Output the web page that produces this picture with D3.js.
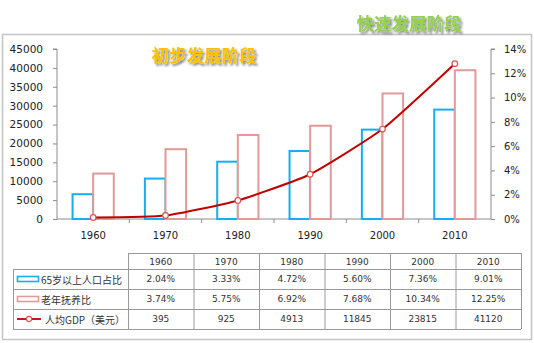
<!DOCTYPE html>
<html><head><meta charset="utf-8">
<script src="https://cdn.jsdelivr.net/npm/d3@7/dist/d3.min.js"></script>
<style>
html,body{margin:0;padding:0;background:#fff;}
svg{display:block;}
</style></head>
<body>
<svg id="chart" width="534" height="343"></svg>
<script>
const years = ["1960","1970","1980","1990","2000","2010"];
const elderlyShare = [2.04, 3.33, 4.72, 5.60, 7.36, 9.01];      // %
const dependency = [3.74, 5.75, 6.92, 7.68, 10.34, 12.25];       // %
const gdpPerCapita = [395, 925, 4913, 11845, 23815, 41120];      // USD
const leftTicks = [0,5000,10000,15000,20000,25000,30000,35000,40000,45000];
const rightTicks = [0,2,4,6,8,10,12,14];
const seriesNames = ["65岁以上人口占比","老年抚养比","人均GDP（美元）"];
const stageLabels = ["初步发展阶段","快速发展阶段"];

const svg = d3.select("#chart");
const font = "'DejaVu Sans', Verdana, sans-serif";
const cjk = "'Noto Sans CJK SC', sans-serif";
const axisColor = "#8c8c8c";
const blue = "#12b0ee", pink = "#e09a98", red = "#c00000";

const defs = svg.append("defs");
const f = defs.append("filter").attr("id","sh").attr("x","-10%").attr("y","-30%").attr("width","130%").attr("height","170%");
f.append("feGaussianBlur").attr("in","SourceAlpha").attr("stdDeviation",1).attr("result","b");
f.append("feOffset").attr("in","b").attr("dx",1.5).attr("dy",1.5).attr("result","o");
f.append("feComponentTransfer").attr("in","o").attr("result","o2")
  .append("feFuncA").attr("type","linear").attr("slope",0.5);
const m = f.append("feMerge");
m.append("feMergeNode").attr("in","o2");
m.append("feMergeNode").attr("in","SourceGraphic");

svg.append("rect").attr("x",2.5).attr("y",34.5).attr("width",529).attr("height",305)
  .attr("fill","#fff").attr("stroke","#c4c4c4").attr("stroke-width",1.5);

const plotL = 57, plotR = 491, plotT = 49, plotB = 219;
const x = d3.scaleBand().domain(years).range([plotL, plotR]).padding(0);
const yL = d3.scaleLinear().domain([0,45000]).range([plotB, plotT]);
const yR = d3.scaleLinear().domain([0,14]).range([plotB, plotT]);

const gL = svg.append("g").attr("transform",`translate(${plotL},0)`)
  .call(d3.axisLeft(yL).tickValues(leftTicks).tickSize(4).tickPadding(10).tickFormat(d3.format("d")));
const gR = svg.append("g").attr("transform",`translate(${plotR},0)`)
  .call(d3.axisRight(yR).tickValues(rightTicks).tickSize(4).tickPadding(9).tickFormat(d => d + "%"));
const gX = svg.append("g").attr("transform",`translate(0,${plotB})`)
  .call(d3.axisBottom(x).tickSize(0).tickPadding(13));
gX.selectAll(".bnd").data(years.slice(1)).enter().append("line").attr("class","bnd")
  .attr("x1",d=>x(d)).attr("x2",d=>x(d)).attr("y1",0).attr("y2",4).attr("stroke",axisColor);
[gL,gR,gX].forEach(g=>{
  g.selectAll("path.domain").attr("stroke",axisColor);
  g.selectAll(".tick line").attr("stroke",axisColor);
  g.selectAll("text").attr("font-family",font).attr("font-size","10.5px").attr("fill","#222");
});
gX.selectAll("text").attr("font-size","10px");
gR.selectAll("text").attr("font-size","10px");
gL.select("path.domain").attr("d",`M-4,${plotT}H0V${plotB}`);
gR.select("path.domain").attr("d",`M4,${plotT}H0V${plotB}`);
gX.select("path.domain").attr("d",`M${plotL},0H${plotR}`);

const bw = x.bandwidth()*0.285;
const bars = svg.append("g");
bars.selectAll(".b1").data(years).enter().append("rect")
  .attr("x",(d)=>x(d)+x.bandwidth()/2-bw)
  .attr("y",(d,i)=>yR(elderlyShare[i]))
  .attr("width",bw).attr("height",(d,i)=>plotB-yR(elderlyShare[i]))
  .attr("fill","#fff").attr("stroke",blue).attr("stroke-width",2);
bars.selectAll(".b2").data(years).enter().append("rect")
  .attr("x",(d)=>x(d)+x.bandwidth()/2)
  .attr("y",(d,i)=>yR(dependency[i]))
  .attr("width",bw).attr("height",(d,i)=>plotB-yR(dependency[i]))
  .attr("fill","#fff").attr("stroke",pink).attr("stroke-width",2);

const pts = years.map((d,i)=>[x(d)+x.bandwidth()/2, yL(gdpPerCapita[i])]);
svg.append("path").attr("d",d3.line().curve(d3.curveCardinal.tension(0.5))(pts))
  .attr("fill","none").attr("stroke",red).attr("stroke-width",2);
svg.selectAll(".mk").data(pts).enter().append("circle")
  .attr("cx",d=>d[0]).attr("cy",d=>d[1]).attr("r",2.8)
  .attr("fill","#fff").attr("stroke","#e05050").attr("stroke-width",1.2);

svg.append("text").attr("x",204).attr("y",62).attr("text-anchor","middle")
  .attr("font-family",cjk).attr("font-weight","bold").attr("font-size","17.5px")
  .attr("fill","#ffc000").attr("filter","url(#sh)").text(stageLabels[0]);
svg.append("text").attr("x",409).attr("y",30).attr("text-anchor","middle")
  .attr("font-family",cjk).attr("font-weight","bold").attr("font-size","17.5px")
  .attr("fill","#92d050").attr("filter","url(#sh)").text(stageLabels[1]);

const tL = 13, tC = 128, tR = 521, hT = 253, rT = 269, rH = 20;
const cw = (tR - tC)/years.length;
const tg = svg.append("g");
const lc = "#9a9a9a";
tg.append("line").attr("x1",tC).attr("x2",tR).attr("y1",hT+.5).attr("y2",hT+.5).attr("stroke",lc);
for(let r=0;r<=3;r++){
  tg.append("line").attr("x1",tL).attr("x2",tR).attr("y1",rT+r*rH+.5).attr("y2",rT+r*rH+.5).attr("stroke",lc);
}
tg.append("line").attr("x1",tL+.5).attr("x2",tL+.5).attr("y1",rT).attr("y2",rT+3*rH).attr("stroke",lc);
for(let c=0;c<=years.length;c++){
  tg.append("line").attr("x1",tC+c*cw+.5).attr("x2",tC+c*cw+.5).attr("y1",hT).attr("y2",rT+3*rH).attr("stroke",lc);
}
const txt = (xx,yy,s,anchor,fam,size)=>tg.append("text").attr("x",xx).attr("y",yy)
  .attr("text-anchor",anchor||"middle").attr("font-family",fam||font).attr("font-size",size||"9px")
  .attr("fill","#333").attr("dominant-baseline","central").text(s);
years.forEach((yv,i)=>{
  const cx = tC + cw*(i+0.5);
  txt(cx, hT+8.5, yv);
  txt(cx, rT+rH*0.5, elderlyShare[i].toFixed(2)+"%");
  txt(cx, rT+rH*1.5, dependency[i].toFixed(2)+"%");
  txt(cx, rT+rH*2.5, String(gdpPerCapita[i]));
});
tg.append("rect").attr("x",17.5).attr("y",rT+rH*0.5-2.5).attr("width",21).attr("height",5)
  .attr("fill","#fff").attr("stroke",blue).attr("stroke-width",1.6);
tg.append("rect").attr("x",17.5).attr("y",rT+rH*1.5-2.5).attr("width",21).attr("height",5)
  .attr("fill","#fff").attr("stroke",pink).attr("stroke-width",1.6);
tg.append("line").attr("x1",17).attr("x2",41).attr("y1",rT+rH*2.5).attr("y2",rT+rH*2.5)
  .attr("stroke",red).attr("stroke-width",1.8);
tg.append("circle").attr("cx",29).attr("cy",rT+rH*2.5).attr("r",2.6)
  .attr("fill","#fff").attr("stroke","#e05050").attr("stroke-width",1.1);
txt(41, rT+rH*0.5, seriesNames[0], "start", cjk, "10px");
txt(41, rT+rH*1.5, seriesNames[1], "start", cjk, "10px");
txt(45, rT+rH*2.5, seriesNames[2], "start", cjk, "10px");
</script>
</body></html>
